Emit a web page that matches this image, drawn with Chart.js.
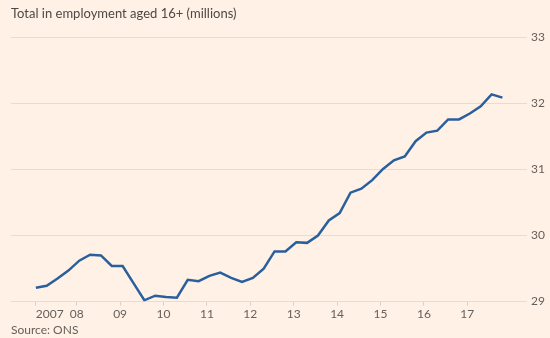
<!DOCTYPE html>
<html>
<head>
<meta charset="utf-8">
<script src="https://cdn.jsdelivr.net/npm/chart.js@4/dist/chart.umd.min.js"></script>
<style>
  html, body { margin: 0; padding: 0; background: #fff1e5; }
  canvas { display: block; }
</style>
</head>
<body>
<canvas id="c" width="550" height="338"></canvas>
<script>
// Quarterly periods (first month of each 3-month period)
const periods = [
  '2007-01','2007-04','2007-07','2007-10',
  '2008-01','2008-04','2008-07','2008-10',
  '2009-01','2009-04','2009-07','2009-10',
  '2010-01','2010-04','2010-07','2010-10',
  '2011-01','2011-04','2011-07','2011-10',
  '2012-01','2012-04','2012-07','2012-10',
  '2013-01','2013-04','2013-07','2013-10',
  '2014-01','2014-04','2014-07','2014-10',
  '2015-01','2015-04','2015-07','2015-10',
  '2016-01','2016-04','2016-07','2016-10',
  '2017-01','2017-04','2017-07','2017-10'
];
// Total in employment aged 16+ (millions)
const employment = [
  29.21, 29.24, 29.35, 29.47, 29.62, 29.71, 29.70, 29.54,
  29.54, 29.28, 29.02, 29.09, 29.07, 29.06, 29.33, 29.31,
  29.39, 29.44, 29.36, 29.30, 29.36, 29.50, 29.76, 29.76,
  29.90, 29.89, 30.00, 30.23, 30.34, 30.65, 30.71, 30.84,
  31.01, 31.14, 31.20, 31.43, 31.56, 31.59, 31.76, 31.76,
  31.85, 31.96, 32.14, 32.09
];
const yearTicks = [2007, 2008, 2009, 2010, 2011, 2012, 2013, 2014, 2015, 2016, 2017];
const yearTickLabels = ['2007', '08', '09', '10', '11', '12', '13', '14', '15', '16', '17'];
const yTicks = [29, 30, 31, 32, 33];

const toYear = p => { const [y, m] = p.split('-').map(Number); return y + (m - 0.3) / 12; };
const points = periods.map((p, i) => ({ x: toYear(p), y: employment[i] }));

const TEXT = '#66605c';
const FONT = 'Lato, "Open Sans", sans-serif';

// First x label ("2007") starts at its tick instead of being centred on it
const firstLabelLeft = {
  id: 'firstLabelLeft',
  beforeDraw(chart) {
    const s = chart.scales.x;
    const items = s.getLabelItems(chart.chartArea);
    if (items && items.length) items[0].options.textAlign = 'left';
  }
};

new Chart(document.getElementById('c'), {
  type: 'line',
  data: {
    datasets: [{
      data: points,
      borderColor: '#2a5f9e',
      borderWidth: 2.5,
      pointRadius: 0,
      tension: 0,
      fill: false
    }]
  },
  plugins: [firstLabelLeft],
  options: {
    responsive: false,
    animation: false,
    devicePixelRatio: 1,
    layout: { padding: { left: 11, right: 0, top: 0, bottom: 0 } },
    plugins: {
      legend: { display: false },
      tooltip: { enabled: false },
      title: {
        display: true,
        text: 'Total in employment aged 16+ (millions)',
        align: 'start',
        color: '#4d4845',
        font: { family: FONT, size: 13, weight: 'normal' },
        padding: { top: 6, bottom: 16 }
      },
      subtitle: {
        display: true,
        position: 'bottom',
        text: 'Source: ONS',
        align: 'start',
        color: TEXT,
        font: { family: FONT, size: 12, weight: 'normal' },
        padding: { top: 1, bottom: 1 }
      }
    },
    scales: {
      x: {
        type: 'linear',
        min: 2006.486,
        max: 2018.375,
        afterBuildTicks: s => {
          s.ticks = yearTicks.map((y, i) => ({ value: i === 0 ? points[0].x : y }));
        },
        afterFit: s => { s.height = 20; },
        grid: {
          drawOnChartArea: false,
          drawTicks: true,
          tickLength: 4,
          color: '#ddd0c5'
        },
        border: { display: false },
        ticks: {
          autoSkip: false,
          maxRotation: 0,
          padding: 1,
          color: TEXT,
          font: { family: FONT, size: 12 },
          callback: (v, i) => yearTickLabels[i]
        }
      },
      y: {
        position: 'right',
        min: 29,
        max: 33,
        afterBuildTicks: s => { s.ticks = yTicks.map(v => ({ value: v })); },
        afterFit: s => { s.width = 23; },
        grid: { drawTicks: false, color: '#e8dbd0' },
        border: { display: false },
        ticks: {
          padding: 4,
          color: TEXT,
          font: { family: FONT, size: 12 }
        }
      }
    }
  }
});
</script>
</body>
</html>
